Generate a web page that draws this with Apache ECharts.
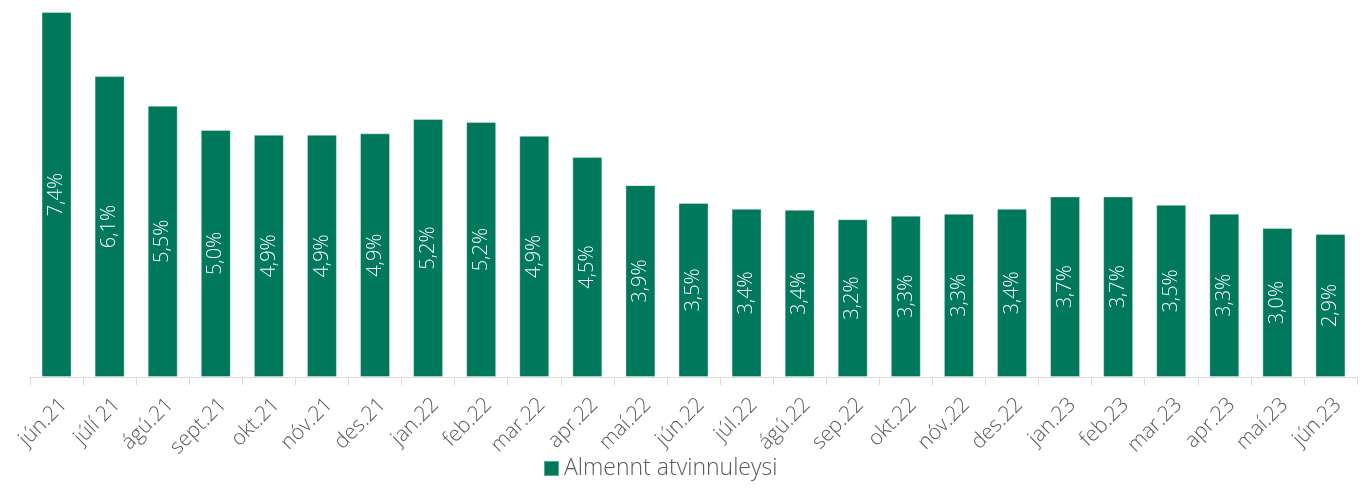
<!DOCTYPE html>
<html>
<head>
<meta charset="utf-8">
<script src="https://cdn.jsdelivr.net/npm/echarts@6/dist/echarts.min.js"></script>
<style>
  html, body { margin: 0; padding: 0; background: #fff; }
  #chart { width: 1364px; height: 504px; }
</style>
</head>
<body>
<div id="chart"></div>
<script>
// Months (x axis)
const months = [
  'jún.21', 'júlí 21', 'ágú.21', 'sept.21', 'okt.21', 'nóv.21', 'des.21',
  'jan.22', 'feb.22', 'mar.22', 'apr.22', 'maí.22', 'jún.22', 'júl.22',
  'ágú.22', 'sep.22', 'okt.22', 'nóv.22', 'des.22', 'jan.23', 'feb.23',
  'mar.23', 'apr.23', 'maí.23', 'jún.23'
]

// Almennt atvinnuleysi (%)
const unemployment = [
  7.40, 6.10, 5.50, 5.01, 4.91, 4.91, 4.94,
  5.23, 5.17, 4.89, 4.46, 3.89, 3.53, 3.41,
  3.39, 3.20, 3.27, 3.31, 3.41, 3.66, 3.66,
  3.49, 3.31, 3.02, 2.90
]

const seriesName = 'Almennt atvinnuleysi'
const barColor = '#00785c'
const textColor = '#595959'
const fontFamily = '"Open Sans", "Noto Sans", sans-serif'

const chart = echarts.init(document.getElementById('chart'))

chart.setOption({
  animation: false,
  grid: {
    left: 30,
    right: 7,
    top: 12,
    bottom: 127,
    containLabel: false
  },
  legend: {
    data: [seriesName],
    top: 452,
    left: 538,
    icon: 'rect',
    itemWidth: 15,
    itemHeight: 15,
    itemGap: 7,
    textStyle: {
      color: textColor,
      fontSize: 23,
      fontWeight: 300,
      fontFamily: fontFamily
    }
  },
  xAxis: {
    type: 'category',
    data: months,
    axisLine: { lineStyle: { color: '#d9d9d9', width: 1 } },
    axisTick: { show: true, length: 8, lineStyle: { color: '#d9d9d9' } },
    axisLabel: {
      rotate: 45,
      color: textColor,
      fontSize: 21,
      fontWeight: 300,
      fontFamily: fontFamily,
      margin: 17,
      verticalAlign: 'top',
      interval: 0
    }
  },
  yAxis: {
    type: 'value',
    min: 0,
    max: 7.4,
    show: false,
    splitLine: { show: false }
  },
  series: [
    {
      name: seriesName,
      type: 'bar',
      data: unemployment,
      barWidth: '56.5%',
      itemStyle: {
        color: barColor,
        borderColor: 'rgba(255,255,255,0.35)',
        borderWidth: 1
      },
      label: {
        show: true,
        position: 'inside',
        rotate: 90,
        color: '#ffffff',
        fontSize: 20,
        fontWeight: 300,
        fontFamily: fontFamily,
        formatter: p => p.value.toFixed(1).replace('.', ',') + '%'
      }
    }
  ]
})
</script>
</body>
</html>
